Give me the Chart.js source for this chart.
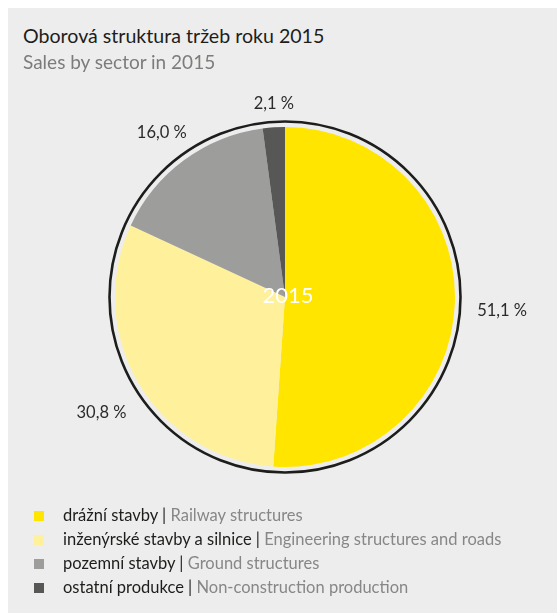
<!DOCTYPE html>
<html lang="cs">
<head>
    <meta charset="UTF-8">
    <title>Oborová struktura tržeb roku 2015</title>
    <script src="https://cdn.jsdelivr.net/npm/chart.js"></script>
    <style>
        body {
            margin: 0;
            background: #ffffff;
            font-family: Lato, "Noto Sans", sans-serif;
        }
        .panel {
            position: absolute;
            left: 8px;
            top: 8px;
            width: 549px;
            height: 605px;
            background: #ededed;
        }
        .title {
            position: absolute;
            left: 15px;
            top: 16px;
            font-size: 19.6px;
            color: #1d1d1b;
            z-index: 2;
        }
        .subtitle {
            position: absolute;
            left: 15px;
            top: 42px;
            font-size: 19px;
            color: #7c7c7b;
            z-index: 2;
        }
        .chart-box {
            position: absolute;
            left: 27px;
            top: 39px;
            width: 500px;
            height: 500px;
        }
        .legend {
            position: absolute;
            left: 26px;
            top: 495px;
            font-size: 16.5px;
            z-index: 2;
        }
        .legend div {
            height: 24px;
            line-height: 24px;
            white-space: nowrap;
        }
        .legend .sq {
            display: inline-block;
            width: 10px;
            height: 10px;
            margin-right: 19px;
        }
        .legend .cz { color: #1d1d1b; }
        .legend .en { color: #878787; }
    </style>
</head>
<body>
    <div class="panel">
        <div class="title">Oborová struktura tržeb roku 2015</div>
        <div class="subtitle">Sales by sector in 2015</div>
        <div class="chart-box"><canvas id="pie"></canvas></div>
        <div class="legend" id="legend"></div>
    </div>

    <script>
        // data
        const labelsCz = ['drážní stavby', 'inženýrské stavby a silnice', 'pozemní stavby', 'ostatní produkce'];
        const labelsEn = ['Railway structures', 'Engineering structures and roads', 'Ground structures', 'Non-construction production'];
        const shares = [51.1, 30.8, 16.0, 2.1];
        const colors = ['#ffe500', '#fff09b', '#9d9d9c', '#575756'];
        const centerText = '2015';

        // legend
        const legendEl = document.getElementById('legend');
        labelsCz.forEach((cz, i) => {
            const row = document.createElement('div');
            row.innerHTML = '<span class="sq" style="background:' + colors[i] + '"></span>' +
                '<span class="cz">' + cz + ' | </span><span class="en">' + labelsEn[i] + '</span>';
            legendEl.appendChild(row);
        });

        const fmt = v => v.toFixed(1).replace('.', ',') + ' %';

        // outer ring, centre year and percentage labels
        const decorations = {
            id: 'decorations',
            afterDraw(chart) {
                const ctx = chart.ctx;
                const arcs = chart.getDatasetMeta(0).data;
                const cx = arcs[0].x, cy = arcs[0].y, r = arcs[0].outerRadius;

                ctx.save();
                ctx.beginPath();
                ctx.arc(cx, cy, r + 5.5, 0, Math.PI * 2);
                ctx.lineWidth = 2.6;
                ctx.strokeStyle = '#1d1d1b';
                ctx.stroke();

                ctx.fillStyle = '#ffffff';
                ctx.font = '22px Lato, "Noto Sans", sans-serif';
                ctx.textAlign = 'center';
                ctx.textBaseline = 'middle';
                ctx.fillText(centerText, cx + 3, cy - 1);

                ctx.fillStyle = '#2b2b2a';
                ctx.font = '16.5px Lato, "Noto Sans", sans-serif';
                arcs.forEach((arc, i) => {
                    const mid = (arc.startAngle + arc.endAngle) / 2;
                    const dx = Math.cos(mid), dy = Math.sin(mid);
                    const txt = fmt(shares[i]);
                    const w = ctx.measureText(txt).width;
                    const dist = r + 20 + Math.abs(dx) * w / 2 + Math.abs(dy) * 8;
                    ctx.fillText(txt, cx + dx * dist + 2, cy + dy * dist + 6);
                });
                ctx.restore();
            }
        };

        new Chart(document.getElementById('pie'), {
            type: 'pie',
            data: {
                labels: labelsCz,
                datasets: [{
                    data: shares,
                    backgroundColor: colors,
                    borderWidth: 0
                }]
            },
            options: {
                responsive: true,
                maintainAspectRatio: false,
                animation: false,
                layout: { padding: 80 },
                plugins: {
                    legend: { display: false },
                    tooltip: { enabled: false }
                }
            },
            plugins: [decorations]
        });
    </script>
</body>
</html>
